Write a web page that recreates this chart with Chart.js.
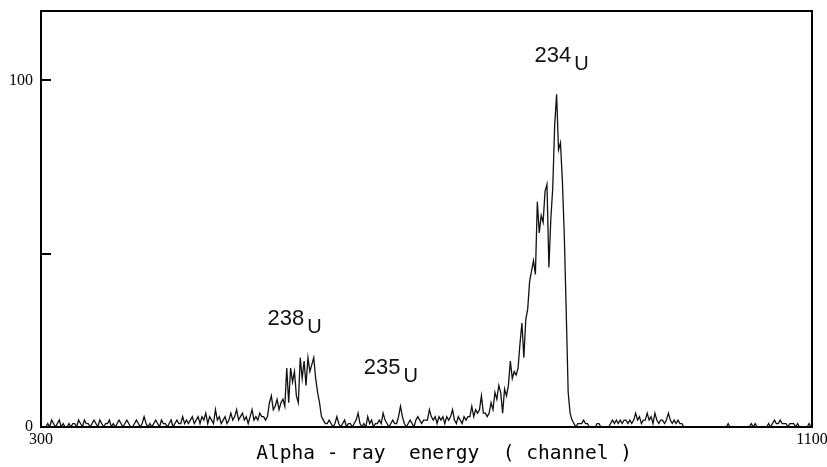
<!DOCTYPE html>
<html><head><meta charset="utf-8">
<script src="https://cdn.jsdelivr.net/npm/chart.js@4.4.1/dist/chart.umd.min.js"></script>
<style>html,body{margin:0;padding:0;background:#fff;overflow:hidden}canvas{display:block}</style>
</head><body>
<canvas id="c" width="827" height="467"></canvas>
<script>
// ---- data ----
const BIN_START = 300;   // first channel
const BIN_WIDTH = 2;     // channels per bin
const counts = [
  0,0,0,1,0,2,1,0,1,2,0,1,0,0,1,0,1,1,0,2,
  1,0,2,1,1,0,1,2,1,0,2,1,0,1,1,2,0,1,0,1,
  2,1,0,1,2,1,0,0,1,2,1,0,1,3,1,0,1,0,1,2,
  1,0,2,1,1,0,1,2,0,1,2,1,1,3,1,2,1,2,3,1,
  2,3,1,3,2,4,1,3,2,1,5,2,3,1,2,3,1,2,4,2,
  3,5,2,3,4,2,3,1,3,5,2,3,2,4,3,3,2,3,7,9,
  5,6,8,5,7,8,6,17,7,17,13,16,9,7,20,14,19,12,20,16,
  18,20,14,10,7,3,2,1,1,2,1,0,1,3,1,0,1,2,0,1,
  1,0,1,2,4,1,0,1,0,3,1,2,0,1,1,2,1,4,2,1,
  0,1,2,1,1,3,6,3,1,0,1,2,1,0,2,3,2,1,2,2,
  2,5,3,2,3,1,3,2,3,1,3,2,3,5,2,1,3,2,1,3,
  2,3,3,6,3,5,4,5,9,4,4,3,4,7,5,10,8,12,10,4,
  11,9,12,19,14,16,15,17,24,30,20,31,34,42,45,48,44,65,56,61,
  59,68,70,46,60,69,87,96,80,82,71,55,33,10,4,2,1,0,1,1,
  1,2,1,1,0,0,0,0,1,1,0,0,0,0,0,1,2,1,2,1,
  2,1,2,2,1,2,1,2,4,2,3,1,2,2,4,2,3,1,4,2,
  1,2,2,1,2,4,2,1,2,1,2,1,1,0,0,0,0,0,0,0,
  0,0,0,0,0,0,0,0,0,0,0,0,0,0,0,0,1,0,0,0,
  0,0,0,0,0,0,0,0,1,0,1,0,0,0,0,0,0,1,0,1,
  2,1,1,2,1,1,1,0,1,1,1,0,1,0,0,0,0,0,1,0
];
const xTicks = [300, 1100];
const yTicks = [0, 50, 100];
const yTickLabels = ['0', '', '100'];
const peakMass = ['238', '235', '234'];
const peakElement = ['U', 'U', 'U'];
const peakLabelChannel = [535, 635, 812];
const peakLabelCount = [29.5, 15.3, 105.2];
const xTitle = '   Alpha - ray  energy  ( channel )';

// ---- build points ----
const points = counts.map((c, i) => ({x: BIN_START + i * BIN_WIDTH + BIN_WIDTH / 2, y: c}));

const bgPlugin = {
  id: 'bg',
  beforeDraw(chart) {
    const ctx = chart.ctx;
    ctx.save(); ctx.fillStyle = '#fff'; ctx.fillRect(0, 0, chart.width, chart.height); ctx.restore();
  }
};

const framePlugin = {
  id: 'frame',
  afterDatasetsDraw(chart) {
    const {ctx, chartArea: a, scales: {y}} = chart;
    ctx.save();
    ctx.strokeStyle = '#000';
    ctx.lineWidth = 2;
    ctx.strokeRect(a.left, a.top, a.right - a.left, a.bottom - a.top);
    yTicks.forEach(v => {
      if (v === 0) return;
      const py = Math.round(y.getPixelForValue(v));
      ctx.beginPath(); ctx.moveTo(a.left, py); ctx.lineTo(a.left + 10, py); ctx.stroke();
    });
    ctx.restore();
  }
};

const labelPlugin = {
  id: 'peakLabels',
  afterDatasetsDraw(chart) {
    const {ctx, scales: {x, y}} = chart;
    ctx.save();
    ctx.fillStyle = '#111';
    ctx.textAlign = 'left';
    ctx.textBaseline = 'alphabetic';
    peakMass.forEach((m, k) => {
      const px = x.getPixelForValue(peakLabelChannel[k]);
      const py = y.getPixelForValue(peakLabelCount[k]);
      ctx.font = '22px "Liberation Sans", "DejaVu Sans", sans-serif';
      ctx.fillText(m, px, py);
      const w = ctx.measureText(m).width;
      ctx.font = '20px "Liberation Sans", "DejaVu Sans", sans-serif';
      ctx.fillText(peakElement[k], px + w + 3, py + 8);
    });
    ctx.restore();
  }
};

const zeroPad = s => { s.paddingTop = 0; s.paddingBottom = 0; s.paddingLeft = 0; s.paddingRight = 0; };

new Chart(document.getElementById('c'), {
  type: 'line',
  data: {
    datasets: [{
      data: points,
      borderColor: '#111',
      borderWidth: 1.3,
      pointRadius: 0,
      tension: 0,
      fill: false
    }]
  },
  options: {
    responsive: false,
    animation: false,
    devicePixelRatio: 1,
    layout: {padding: {left: 0, right: 15, top: 11, bottom: 0}},
    plugins: {legend: {display: false}, tooltip: {enabled: false}},
    scales: {
      x: {
        type: 'linear',
        min: 300, max: 1100,
        grid: {display: false, drawTicks: false},
        border: {display: false},
        afterBuildTicks: s => { s.ticks = xTicks.map(v => ({value: v})); },
        afterFit: s => { s.height = 40; zeroPad(s); },
        ticks: {
          color: '#000', padding: 3, maxRotation: 0, autoSkip: false,
          font: {family: '"Liberation Serif", "DejaVu Serif", serif', size: 16},
          callback: v => String(v)
        },
        title: {
          display: true, text: xTitle, color: '#000',
          font: {family: '"DejaVu Sans Mono", "Liberation Mono", monospace', size: 19.5},
          padding: {top: 0, bottom: 1}
        }
      },
      y: {
        type: 'linear',
        min: 0, max: 120,
        grid: {display: false, drawTicks: false},
        border: {display: false},
        afterBuildTicks: s => { s.ticks = yTicks.map(v => ({value: v})); },
        afterFit: s => { s.width = 41; zeroPad(s); },
        ticks: {
          color: '#000', padding: 8, autoSkip: false,
          font: {family: '"Liberation Serif", "DejaVu Serif", serif', size: 16},
          callback: v => { const k = yTicks.indexOf(v); return k >= 0 ? yTickLabels[k] : ''; }
        }
      }
    }
  },
  plugins: [bgPlugin, framePlugin, labelPlugin]
});
</script>
</body></html>
